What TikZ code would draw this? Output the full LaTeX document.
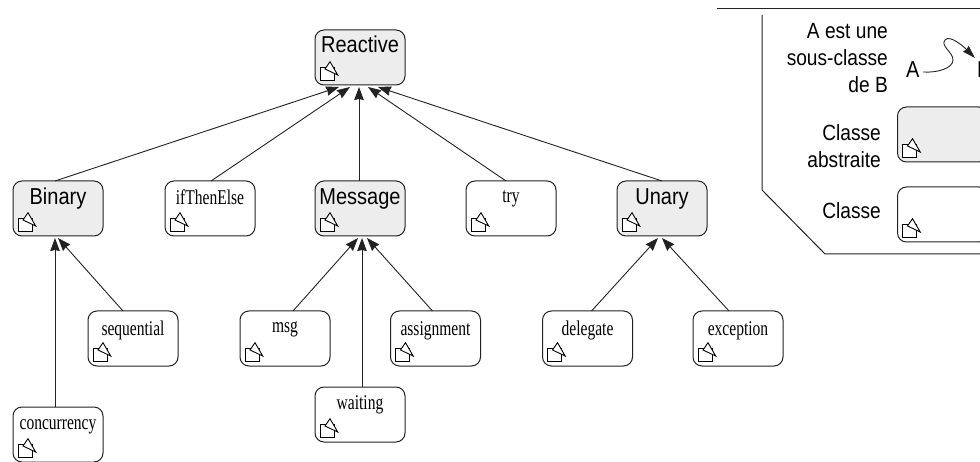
\documentclass[tikz,border=0pt]{standalone}
\usepackage{fontspec}
\setmainfont{Liberation Serif}[FakeStretch=0.74]
\newfontfamily\hv{Liberation Sans}[FakeStretch=0.87]
\usetikzlibrary{arrows.meta}
\definecolor{inkc}{HTML}{000000}
\definecolor{edgec}{HTML}{222222}
\definecolor{absc}{HTML}{EDEDED}
\newcommand{\classicon}[1]{%
  \begin{scope}[shift={(#1.south west)},x=1pt,y=1pt,line width=0.9pt,draw=inkc]
    \draw[fill=white] (5,4.3) rectangle (19,17.7);
    \draw[fill=white] (10,16) -- (15,23.3) -- (22.7,10) -- cycle;
  \end{scope}}
\tikzset{
  cbox/.style={draw=edgec,line width=1pt,rounded corners=9pt,minimum width=90pt,minimum height=55pt,inner sep=0pt,outer sep=0pt,text height=24pt,text depth=31pt},
  cls/.style={cbox,fill=white,text=inkc,font=\fontsize{21}{23}\selectfont},
  abs/.style={cbox,fill=absc,text=inkc,font=\hv\fontsize{23}{25}\selectfont},
  hi/.style={text height=22pt,text depth=33pt},
  inh/.style={draw=edgec,line width=0.9pt,-{Stealth[length=13pt,width=9.5pt,inset=1pt]}},
  lbl/.style={text=inkc,font=\hv\fontsize{22}{27}\selectfont,align=right,inner sep=0pt,anchor=east},
  letter/.style={text=inkc,font=\hv\fontsize{23}{25}\selectfont,inner sep=0pt},
  frame/.style={draw=edgec,line width=1pt}
}
\begin{document}
\begin{tikzpicture}[x=1pt,y=-1pt]
\useasboundingbox (0,0) rectangle (980,462);
\clip (0,0) rectangle (980,462);
\node[abs,text height=23pt,text depth=32pt] (reactive) at (360,57.5) {Reactive};
\node[abs] (binary) at (58,208.5) {Binary};
\node[cls] (ite) at (210,208.5) {ifThenElse};
\node[abs] (message) at (360,208.5) {Message};
\node[cls,hi] (try) at (511,208.5) {try};
\node[abs] (unary) at (662,208.5) {Unary};
\node[cls] (sequential) at (133,338.5) {sequential};
\node[cls,hi] (msg) at (285,338.5) {msg};
\node[cls] (assignment) at (435.5,338.5) {assignment};
\node[cls] (delegate) at (587.5,338.5) {delegate};
\node[cls] (exception) at (738,338.5) {exception};
\node[cls,hi] (waiting) at (360,414.5) {waiting};
\node[cls,hi] (concurrency) at (58,434.5) {concurrency};
\foreach \c/\a/\p/\b in {binary/-3/reactive/-21,ite/1/reactive/-10,message/-1/reactive/-1,try/-5/reactive/8,unary/0/reactive/18,
  sequential/-10/binary/0,concurrency/-3/binary/-3,msg/8/message/-2,waiting/2/message/2,assignment/-3/message/7,
  delegate/4/unary/-4,exception/-9/unary/0}
  {\draw[inh] ([xshift=\a pt]\c.north) -- ([xshift=\b pt,yshift=-2pt]\p.south);}
% legend
\coordinate (f1) at (717,9);
\coordinate (f2) at (980,9);
\coordinate (f3) at (762,15);
\coordinate (f4) at (762,190);
\coordinate (f5) at (825,254);
\coordinate (f6) at (980,254);
\draw[frame] (f1) -- (f2);
\draw[frame] (f3) -- (f4) -- (f5) -- (f6);
\node[lbl] (l1) at (888,58) {A est une\\sous-classe\\de B};
\node[lbl] (l2) at (881,146) {Classe\\abstraite};
\node[lbl] (l3) at (881,211) {Classe};
\node[abs] (labs) at (942.5,134.5) {};
\node[cls] (lcls) at (942.5,214.5) {};
\node[letter,anchor=base west] (na) at (906,78) {A};
\node[letter,anchor=base west] (nb) at (977,78) {B};
\coordinate (curvestart) at (923,72);
\coordinate (curveend) at (975,58);
\draw[edgec,line width=0.9pt,-{Stealth[length=13pt,width=8pt,inset=1pt]}]
  (curvestart) .. controls (938,73) and (953,68) .. (953,60)
  .. controls (953,52) and (940,46) .. (945,40)
  .. controls (950,34) and (965,48) .. (curveend);
\foreach \n in {reactive,binary,ite,message,try,unary,sequential,msg,assignment,delegate,exception,waiting,concurrency,labs,lcls}
  {\classicon{\n}}
\end{tikzpicture}
\end{document}
